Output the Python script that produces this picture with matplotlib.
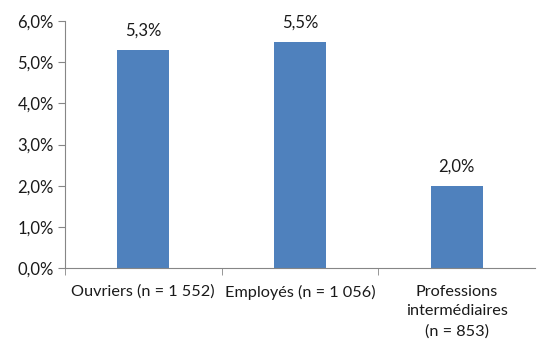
import matplotlib
matplotlib.use("Agg")
import matplotlib.pyplot as plt
from matplotlib.ticker import FuncFormatter, FixedLocator

categories = ["Ouvriers (n = 1 552)", "Employés (n = 1 056)", "Professions\nintermédiaires\n(n = 853)"]
values = [5.3, 5.5, 2.0]

plt.rcParams['font.family'] = ['Lato', 'DejaVu Sans']
fig = plt.figure(figsize=(5.41, 3.45), dpi=100)
ax = fig.add_axes([0.120, 0.223, 0.869, 0.716])

x = list(range(len(categories)))
ax.bar(x, values, width=0.33, color="#4F81BD")
for xi, v in zip(x, values):
    ax.text(xi, v + 0.27, f"{v:.1f}%".replace(".", ","), ha="center", va="bottom", fontsize=12, color="#1a1a1a")

ax.set_xlim(-0.5, len(categories) - 0.5)
ax.set_ylim(0, 6)
ax.set_yticks([0, 1, 2, 3, 4, 5, 6])
ax.yaxis.set_major_formatter(FuncFormatter(lambda v, p: f"{v:.1f}%".replace(".", ",")))
ax.set_xticks(x)
ax.set_xticklabels(categories, linespacing=1.5)
ax.xaxis.set_minor_locator(FixedLocator([-0.5, 0.5, 1.5]))
ax.tick_params(axis="x", which="major", length=0, pad=12, labelsize=11.7, labelcolor="#1a1a1a")
ax.tick_params(axis="x", which="minor", length=5, color="#868686")
ax.tick_params(axis="y", length=5, color="#868686", labelsize=12, labelcolor="#1a1a1a", pad=3)
for s in ["top", "right"]:
    ax.spines[s].set_visible(False)
for s in ["left", "bottom"]:
    ax.spines[s].set_color("#868686")
fig.savefig("out.png", dpi=100)
